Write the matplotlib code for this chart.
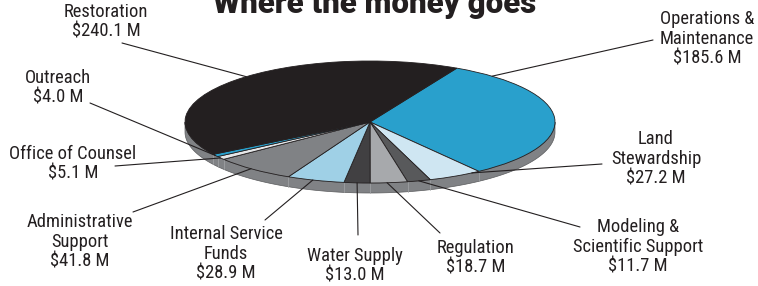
import numpy as np
import matplotlib
matplotlib.use('Agg')
import matplotlib.pyplot as plt

# data (millions of dollars), clockwise from the top
categories = ['Operations &\nMaintenance', 'Land\nStewardship', 'Modeling &\nScientific Support',
              'Regulation', 'Water Supply', 'Internal Service\nFunds', 'Administrative\nSupport',
              'Office of Counsel', 'Outreach', 'Restoration']
values = [185.6, 27.2, 11.7, 18.7, 13.0, 28.9, 41.8, 5.1, 4.0, 240.1]
colors = ['#29a0cc', '#cfe6f2', '#58595b', '#a7a9ac', '#414042', '#9fd0e6', '#808285',
          '#e6e7e8', '#29a0cc', '#231f20']

# label layout: text centre x, text top y (pixels from top), leader start, anchor angle on pie
label_pos = [(707, 10), (656, 130), (638, 218), (476, 239), (355, 247), (226, 225),
             (80, 213), (73, 145), (58, 69), (106, 3)]
line_start = [(653, 40), (602, 164), (580, 227), (440, 233), (358, 235), (265, 220),
              (133, 212), (115, 166), (90, 103), (122, 43)]
anchor_deg = [48.7, -56.6, -74.7, -84.7, -94.0, -108.0, -130.0, None, None, 132.0]

W, H = 758, 286
dark = '#231f20'
txt_font = ['Roboto Condensed', 'Roboto', 'DejaVu Sans']

fig = plt.figure(figsize=(W / 100, H / 100), dpi=100)
ax = fig.add_axes([185 / W, (H - 183) / H, 370 / W, 122 / H])

wedges, _ = ax.pie(values, colors=colors, startangle=62, counterclock=False, radius=1,
                   wedgeprops=dict(edgecolor=dark, linewidth=0.6))
for w in wedges:
    w.set_zorder(3)
ax.set_aspect('auto')
ax.set_xlim(-1, 1)
ax.set_ylim(-1, 1)
ax.axis('off')

# depth of the disc (front half)
depth = 10 / 61
t = np.linspace(np.pi, 2 * np.pi, 200)
xs = np.concatenate([np.cos(t), np.cos(t[::-1])])
ys = np.concatenate([np.sin(t), np.sin(t[::-1]) - depth])
ax.fill(xs, ys, color='#808285', edgecolor='#5a5b5d', linewidth=0.5, zorder=1, clip_on=False)
for w in wedges:
    th = np.deg2rad(w.theta1) % (2 * np.pi)
    if np.pi < th < 2 * np.pi:
        ax.plot([np.cos(th)] * 2, [np.sin(th), np.sin(th) - depth], color='#a3a5a8',
                lw=0.5, zorder=2, clip_on=False)

# labels and leader lines
for i, w in enumerate(wedges):
    ang = anchor_deg[i] if anchor_deg[i] is not None else (w.theta1 + w.theta2) / 2
    a = np.deg2rad(ang)
    cx, ty = label_pos[i]
    fig.text(cx / W, 1 - ty / H, f'{categories[i]}\n${values[i]:.1f} M', ha='center', va='top',
             fontsize=13.3, family=txt_font, color=dark, linespacing=1.12)
    sx, sy = line_start[i]
    ax.annotate('', xy=(np.cos(a), np.sin(a)), xycoords='data',
                xytext=(sx, H - sy), textcoords='figure pixels',
                arrowprops=dict(arrowstyle='-', color=dark, lw=0.8, shrinkA=0, shrinkB=0),
                zorder=4, annotation_clip=False)

fig.text(375 / W, 1 - 13 / H, 'Where the money goes', ha='center', va='baseline',
         fontsize=22.5, fontweight='black', family=['Roboto', 'DejaVu Sans'], color=dark)

fig.savefig('out.png', dpi=100)
